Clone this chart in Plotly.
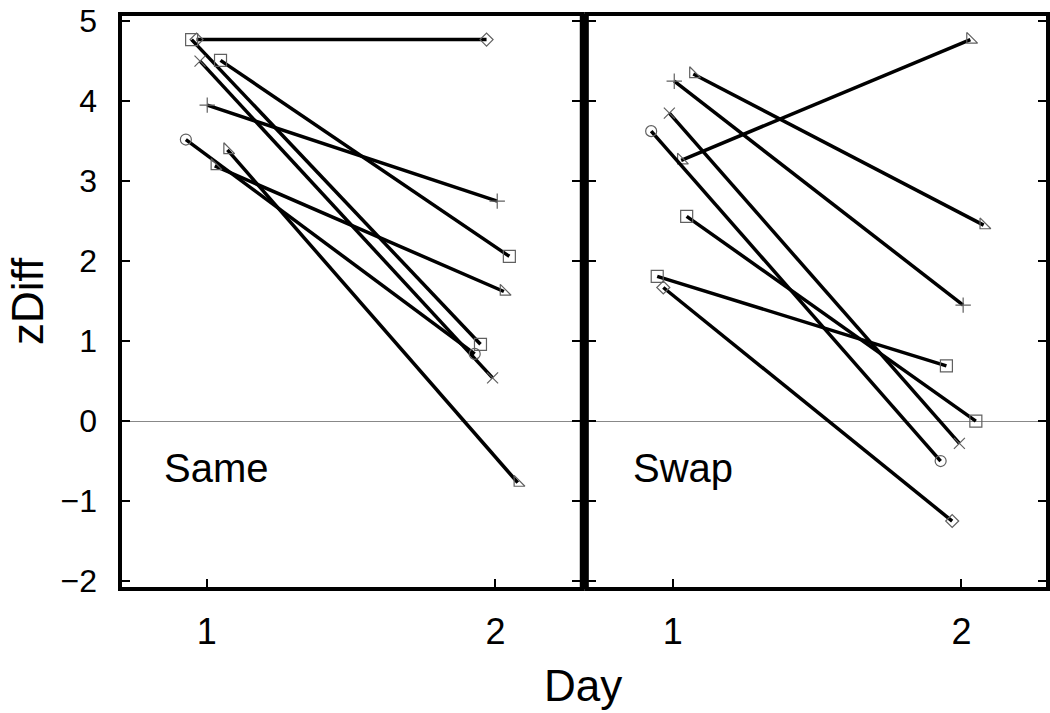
import plotly.graph_objects as go

# ---------------- data ----------------
# Panel "Same"
same_symbols = ["diamond-open", "square-open", "x-thin-open", "square-open",
                "cross-thin-open", "circle-open", "triangle-sw-open", "triangle-sw-open"]
same_x_day1 = [0.965, 0.948, 0.977, 1.048, 1.002, 0.928, 1.072, 1.028]
same_x_day2 = [1.969, 1.948, 1.990, 2.048, 2.006, 1.928, 2.077, 2.029]
same_y_day1 = [4.77, 4.77, 4.50, 4.51, 3.95, 3.52, 3.39, 3.19]
same_y_day2 = [4.77, 0.96, 0.54, 2.06, 2.75, 0.84, -0.77, 1.62]

# Panel "Swap"
swap_symbols = ["triangle-sw-open", "triangle-sw-open", "cross-thin-open", "x-thin-open",
                "circle-open", "square-open", "square-open", "diamond-open"]
swap_x_day1 = [1.029, 1.071, 1.005, 0.988, 0.925, 1.048, 0.946, 0.967]
swap_x_day2 = [2.031, 2.077, 2.006, 1.993, 1.928, 2.050, 1.948, 1.968]
swap_y_day1 = [3.26, 4.34, 4.25, 3.85, 3.625, 2.56, 1.81, 1.67]
swap_y_day2 = [4.77, 2.45, 1.45, -0.28, -0.50, 0.00, 0.69, -1.25]

panel_labels = ["Same", "Swap"]
x_ticks = [1, 2]
x_ticktext = ["1", "2"]
y_ticks = [-2, -1, 0, 1, 2, 3, 4, 5]
y_ticktext = ["\u22122", "\u22121", "0", "1", "2", "3", "4", "5"]

# ---------------- figure ----------------
FONT = "Liberation Sans, Arial, Helvetica, sans-serif"
fig = go.Figure()

marker_sizes = {"square-open": 12, "diamond-open": 10, "circle-open": 11,
                "x-thin-open": 11, "cross-thin-open": 11, "triangle-sw-open": 12}


def add_panel(sym, x1, x2, y1, y2, xa, ya):
    for s, a, b, c, d in zip(sym, x1, x2, y1, y2):
        fig.add_trace(go.Scatter(
            x=[a, b], y=[c, d], mode="lines+markers",
            xaxis=xa, yaxis=ya, showlegend=False, hoverinfo="skip",
            line=dict(color="black", width=3.5),
            marker=dict(symbol=s, size=marker_sizes[s], color="#606060",
                        line=dict(color="#606060", width=1.2)),
            cliponaxis=False,
        ))


add_panel(same_symbols, same_x_day1, same_x_day2, same_y_day1, same_y_day2, "x", "y")
add_panel(swap_symbols, swap_x_day1, swap_x_day2, swap_y_day1, swap_y_day2, "x2", "y2")

xaxis_common = dict(range=[0.7, 2.3], tickmode="array", tickvals=x_ticks,
                    ticktext=x_ticktext, ticks="inside", ticklen=10, tickwidth=2,
                    tickcolor="black", showgrid=False, zeroline=False, showline=False,
                    tickfont=dict(family=FONT, size=36, color="black"),
                    ticklabelstandoff=18)
yaxis_common = dict(range=[-2.1, 5.09], tickmode="array", tickvals=y_ticks,
                    ticktext=y_ticktext, ticks="inside", ticklen=10, tickwidth=2,
                    tickcolor="black", showgrid=False, zeroline=True,
                    zerolinecolor="#888888", zerolinewidth=1, showline=False,
                    mirror="ticks",
                    tickfont=dict(family=FONT, size=32, color="black"),
                    ticklabelstandoff=22)

fig.update_layout(
    width=1050, height=713,
    margin=dict(l=120, r=2, t=14, b=124),
    paper_bgcolor="white", plot_bgcolor="white",
    xaxis=dict(domain=[0, 0.498], anchor="y", **xaxis_common),
    xaxis2=dict(domain=[0.5024, 1], anchor="y2", **xaxis_common),
    yaxis=dict(domain=[0, 1], anchor="x", showticklabels=True, **yaxis_common),
    yaxis2=dict(domain=[0, 1], anchor="x2", showticklabels=False, **yaxis_common),
)

# panel frames
for xr, yr in [("x domain", "y domain"), ("x2 domain", "y2 domain")]:
    fig.add_shape(type="rect", xref=xr, yref=yr, x0=0, x1=1, y0=0, y1=1,
                  line=dict(color="black", width=4), layer="above")
# thick divider between panels
fig.add_shape(type="line", xref="paper", yref="paper", x0=0.5003, x1=0.5003, y0=0, y1=1,
              line=dict(color="black", width=9), layer="above")

# panel labels
fig.add_annotation(text=panel_labels[0], x=0.845, y=-0.59, xref="x", yref="y",
                   xanchor="left", yanchor="middle", showarrow=False,
                   font=dict(family=FONT, size=40, color="black"))
fig.add_annotation(text=panel_labels[1], x=0.855, y=-0.59, xref="x2", yref="y2",
                   xanchor="left", yanchor="middle", showarrow=False,
                   font=dict(family=FONT, size=40, color="black"))

# axis titles
fig.add_annotation(text="zDiff", x=-93 / 928, y=(589 - 301) / 575, xref="paper", yref="paper",
                   xanchor="center", yanchor="middle", textangle=-90, showarrow=False,
                   font=dict(family=FONT, size=44, color="black"))
fig.add_annotation(text="Day", x=(582.5 - 120) / 928, y=-(685 - 589) / 575, xref="paper",
                   yref="paper", xanchor="center", yanchor="middle", showarrow=False,
                   font=dict(family=FONT, size=44, color="black"))

fig.write_html("out.html", config={"displayModeBar": False},
               post_script="document.body.style.margin='0px';")
